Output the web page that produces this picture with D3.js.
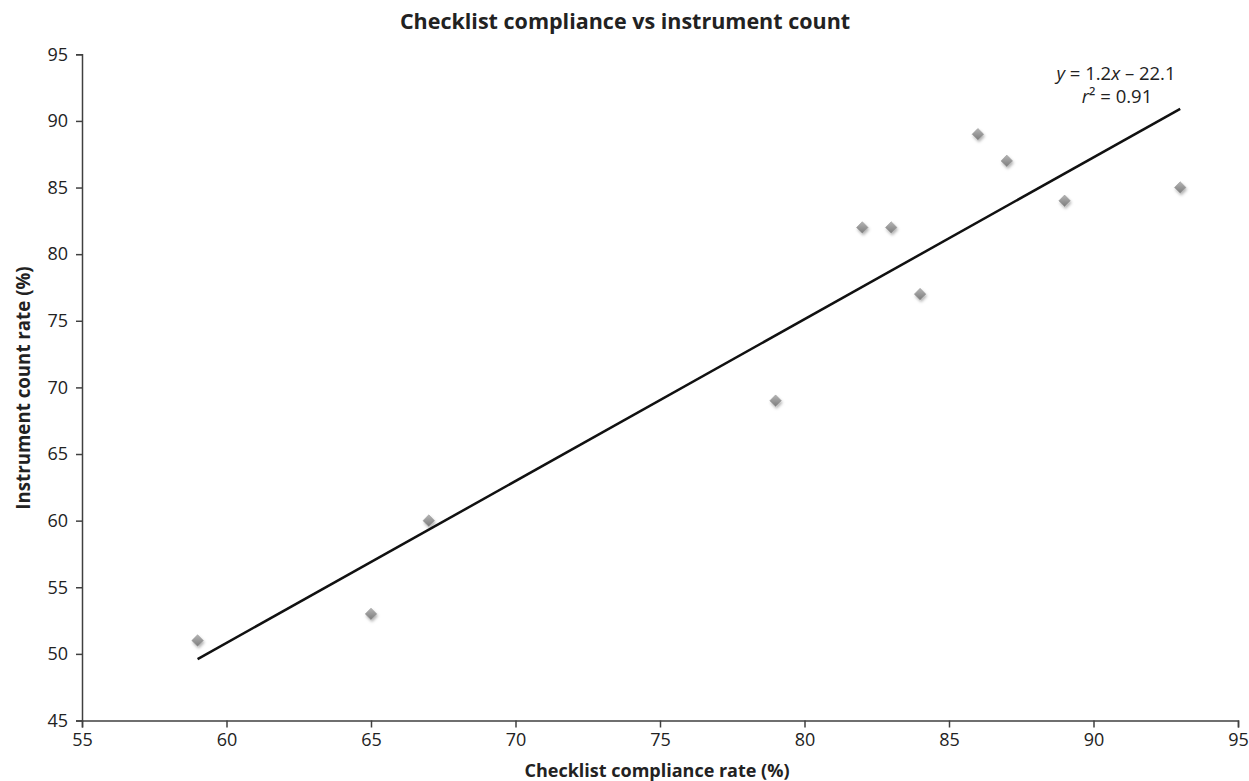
<!DOCTYPE html>
<html><head><meta charset="utf-8">
<script src="https://cdn.jsdelivr.net/npm/d3@7"></script>
<style>body{margin:0;background:#fff;} svg{display:block;}</style>
</head><body>
<svg id="c" width="1249" height="781"></svg>
<script>
const compliance = [59, 65, 67, 79, 82, 83, 84, 86, 87, 89, 93];
const instrument = [51, 53, 60, 69, 82, 82, 77, 89, 87, 84, 85];
const xTicks = [55, 60, 65, 70, 75, 80, 85, 90, 95];
const yTicks = [45, 50, 55, 60, 65, 70, 75, 80, 85, 90, 95];
const titleText = "Checklist compliance vs instrument count";
const xLabel = "Checklist compliance rate (%)";
const yLabel = "Instrument count rate (%)";

const font = "'Open Sans', sans-serif";
const svg = d3.select("#c");
const x = d3.scaleLinear().domain([55, 95]).range([82, 1238]);
const y = d3.scaleLinear().domain([45, 95]).range([720.5, 54.3]);

const defs = svg.append("defs");
const g = defs.append("linearGradient").attr("id","mk").attr("x1","0").attr("y1","0").attr("x2","0").attr("y2","1");
g.append("stop").attr("offset","0%").attr("stop-color","#b4b4b4");
g.append("stop").attr("offset","100%").attr("stop-color","#7c7c7c");
const f = defs.append("filter").attr("id","sh").attr("x","-50%").attr("y","-50%").attr("width","200%").attr("height","200%");
f.append("feDropShadow").attr("dx",1).attr("dy",2).attr("stdDeviation",1.5).attr("flood-color","#000").attr("flood-opacity",0.3);

// axes
const xAxis = d3.axisBottom(x).tickValues(xTicks).tickSizeOuter(0).tickSize(7).tickPadding(6);
const yAxis = d3.axisLeft(y).tickValues(yTicks).tickSizeOuter(0).tickSize(6).tickPadding(8);
const gx = svg.append("g").attr("transform", `translate(0,${y(45)})`).call(xAxis);
const gy = svg.append("g").attr("transform", `translate(${x(55)},0)`).call(yAxis);
[gx, gy].forEach(a => {
  a.selectAll("path, line").attr("stroke", "#404040").attr("stroke-width", 1.5);
  a.selectAll("text").attr("font-family", font).attr("font-size", 18).attr("fill", "#222");
});

// regression
const n = compliance.length;
const mx = d3.mean(compliance), my = d3.mean(instrument);
let sxy = 0, sxx = 0, syy = 0;
for (let i = 0; i < n; i++) {
  sxy += (compliance[i]-mx)*(instrument[i]-my);
  sxx += (compliance[i]-mx)**2;
  syy += (instrument[i]-my)**2;
}
const slope = sxy/sxx, icpt = my - slope*mx;
const r2 = (sxy*sxy)/(sxx*syy);
const x0 = d3.min(compliance), x1 = d3.max(compliance);
svg.append("line")
  .attr("x1", x(x0)).attr("y1", y(slope*x0+icpt))
  .attr("x2", x(x1)).attr("y2", y(slope*x1+icpt))
  .attr("stroke", "#111").attr("stroke-width", 2.5);

// markers
svg.append("g").selectAll("path").data(compliance.map((c,i)=>[c, instrument[i]])).join("path")
  .attr("d", d3.symbol(d3.symbolDiamond2, 85)())
  .attr("transform", d => `translate(${x(d[0])},${y(d[1])})`)
  .attr("fill", "url(#mk)").attr("stroke", "#9a9a9a").attr("stroke-width", 0.6)
  .attr("filter", "url(#sh)");

// equation
const eq = svg.append("text").attr("x", 1116).attr("y", 80).attr("text-anchor","middle")
  .attr("font-family", font).attr("font-size", 18.5).attr("fill","#222");
eq.append("tspan").attr("font-style","italic").text("y");
eq.append("tspan").text(" = " + slope.toFixed(1));
eq.append("tspan").attr("font-style","italic").text("x");
eq.append("tspan").text(" \u2013 " + Math.abs(icpt).toFixed(1));
const eq2 = svg.append("text").attr("x", 1117).attr("y", 103).attr("text-anchor","middle")
  .attr("font-family", font).attr("font-size", 18.5).attr("fill","#222");
eq2.append("tspan").attr("font-style","italic").text("r");
eq2.append("tspan").text("\u00b2 = " + r2.toFixed(2));

// title & labels
svg.append("text").attr("x", 625).attr("y", 29).attr("text-anchor","middle")
  .attr("font-family", font).attr("font-weight","bold").attr("font-size", 21.5).attr("fill","#222").text(titleText);
svg.append("text").attr("x", 657).attr("y", 777).attr("text-anchor","middle")
  .attr("font-family", font).attr("font-weight","bold").attr("font-size", 18).attr("fill","#222").text(xLabel);
svg.append("text").attr("transform", "translate(30,388) rotate(-90)").attr("text-anchor","middle")
  .attr("font-family", font).attr("font-weight","bold").attr("font-size", 18.7).attr("fill","#222").text(yLabel);
</script>
</body></html>
